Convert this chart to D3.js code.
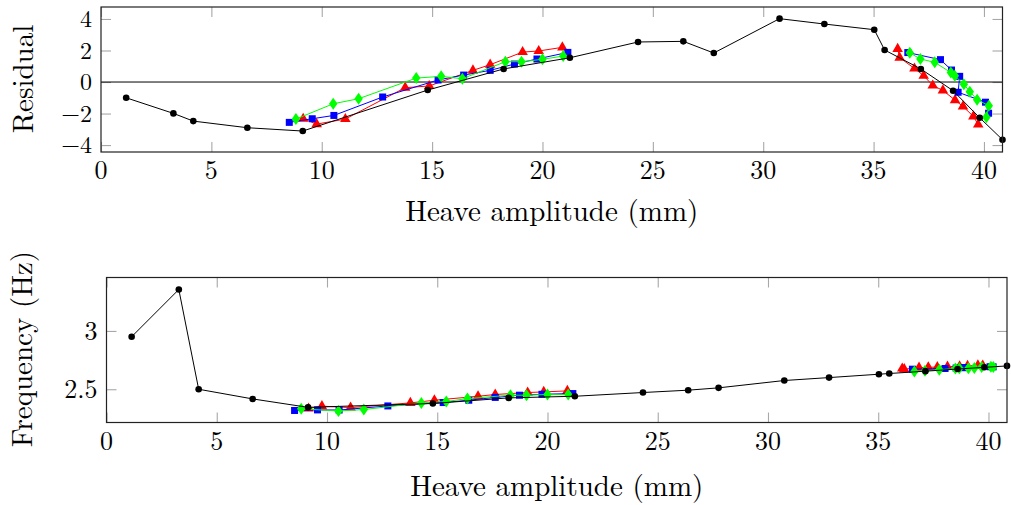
<!DOCTYPE html>
<html>
<head>
<meta charset="utf-8">
<script src="https://cdn.jsdelivr.net/npm/d3@7"></script>
<style>
html,body{margin:0;padding:0;background:#fff;}
svg{display:block;}
text{font-family:"Latin Modern Roman","CMU Serif","Liberation Serif",serif;fill:#000;}
</style>
</head>
<body>
<svg id="chart" width="1011" height="505"></svg>
<script>
// ---------- data ----------
const xTicks = [0, 5, 10, 15, 20, 25, 30, 35, 40];
const resTicks = [-4, -2, 0, 2, 4];
const freqTicks = [2.5, 3];

const blackX = [1.14, 3.28, 4.18, 6.63, 9.14, 14.8, 18.24, 21.24, 24.33, 26.38, 27.76, 30.74, 32.77, 35.03, 35.5, 37.14, 38.6, 39.81, 40.84];
const blackRes = [-1.0, -1.99, -2.48, -2.9, -3.11, -0.51, 0.83, 1.54, 2.54, 2.58, 1.84, 4.02, 3.68, 3.32, 2.03, 0.83, -0.55, -2.27, -3.66];
const blackFreq = [2.95, 3.355, 2.50, 2.417, 2.345, 2.378, 2.426, 2.44, 2.472, 2.492, 2.512, 2.575, 2.60, 2.629, 2.635, 2.655, 2.673, 2.688, 2.70];

const redX1 = [9.16, 9.77, 11.07, 13.78, 14.87, 16.85, 17.63, 19.1, 19.83, 20.9];
const redRes1 = [-2.33, -2.67, -2.35, -0.36, -0.25, 0.74, 1.1, 1.9, 1.97, 2.2];
const redFreq1 = [2.335, 2.355, 2.343, 2.383, 2.406, 2.44, 2.455, 2.472, 2.477, 2.486];
const redX2 = [36.09, 36.18, 36.85, 37.27, 37.68, 38.14, 38.69, 39.05, 39.52, 39.74];
const redRes2 = [2.1, 1.55, 0.86, 0.4, -0.22, -0.53, -1.15, -1.55, -2.18, -2.7];
const redFreq2 = [2.678, 2.672, 2.685, 2.688, 2.69, 2.694, 2.696, 2.70, 2.705, 2.703];

const blueX1 = [8.53, 9.57, 10.55, 12.76, 15.27, 16.43, 17.63, 18.73, 19.75, 21.15];
const blueRes1 = [-2.56, -2.33, -2.12, -0.95, 0.13, 0.44, 0.74, 1.14, 1.46, 1.88];
const blueFreq1 = [2.318, 2.323, 2.322, 2.357, 2.386, 2.406, 2.43, 2.449, 2.457, 2.463];
const blueX2 = [36.55, 38.03, 38.53, 38.9, 38.83, 40.07, 40.21];
const blueRes2 = [1.87, 1.42, 0.76, 0.36, -0.65, -1.28, -1.98];
const blueFreq2 = [2.672, 2.678, 2.682, 2.686, 2.685, 2.693, 2.692];

const greenX1 = [8.83, 10.52, 11.67, 14.28, 15.41, 16.37, 18.32, 19.05, 20.0, 20.94];
const greenRes1 = [-2.35, -1.38, -1.06, 0.25, 0.36, 0.21, 1.29, 1.29, 1.44, 1.65];
const greenFreq1 = [2.332, 2.314, 2.326, 2.383, 2.395, 2.42, 2.449, 2.449, 2.455, 2.455];
const greenX2 = [36.64, 37.12, 37.77, 38.5, 38.68, 39.09, 39.36, 39.69, 40.22, 40.11];
const greenRes2 = [1.85, 1.46, 1.25, 0.6, 0.4, -0.14, -0.61, -1.12, -1.5, -2.24];
const greenFreq2 = [2.652, 2.658, 2.668, 2.678, 2.68, 2.68, 2.683, 2.69, 2.69, 2.692];

const xLabel = "Heave amplitude (mm)";
const resLabel = "Residual";
const freqLabel = "Frequency (Hz)";

// ---------- drawing ----------
const svg = d3.select("#chart");
const zip = (xs, ys) => xs.map((x, i) => [x, ys[i]]);
const xMax = 40.84;
const TICKLEN = 10;
const tickFont = 26, labelFont = 29;
const tickColor = "#a8a8a8";

function styleTicks(s) {
  s.select(".domain").remove();
  s.selectAll("line").attr("stroke", tickColor).attr("stroke-width", 1.1);
}

function panel(cfg) {
  const x = d3.scaleLinear().domain([0, xMax]).range([cfg.left, cfg.right]);
  const y = d3.scaleLinear().domain(cfg.ydom).range([cfg.bottom, cfg.top]);
  const g = svg.append("g");

  // ticks inside on all four sides (grey)
  g.append("g").attr("transform", `translate(0,${cfg.bottom})`)
    .call(d3.axisTop(x).tickValues(xTicks).tickSize(TICKLEN).tickFormat("")).call(styleTicks);
  g.append("g").attr("transform", `translate(0,${cfg.top})`)
    .call(d3.axisBottom(x).tickValues(xTicks).tickSize(TICKLEN).tickFormat("")).call(styleTicks);
  g.append("g").attr("transform", `translate(${cfg.left},0)`)
    .call(d3.axisRight(y).tickValues(cfg.yt).tickSize(TICKLEN).tickFormat("")).call(styleTicks);
  g.append("g").attr("transform", `translate(${cfg.right},0)`)
    .call(d3.axisLeft(y).tickValues(cfg.yt).tickSize(TICKLEN).tickFormat("")).call(styleTicks);

  // tick labels
  g.append("g").selectAll("text").data(xTicks).join("text")
    .attr("x", d => x(d)).attr("y", cfg.bottom + 27)
    .attr("text-anchor", "middle").attr("font-size", tickFont)
    .text(d => d);
  g.append("g").selectAll("text").data(cfg.yt).join("text")
    .attr("x", cfg.left - 9).attr("y", d => y(d)).attr("dy", "0.34em")
    .attr("text-anchor", "end").attr("font-size", cfg.ytFont)
    .text(d => cfg.fmt(d));

  // axis labels
  g.append("text").attr("x", (cfg.left + cfg.right) / 2).attr("y", cfg.xlabY)
    .attr("text-anchor", "middle").attr("font-size", labelFont).text(xLabel);
  g.append("text").attr("transform", `translate(${cfg.ylabX},${cfg.ylabY}) rotate(-90)`)
    .attr("text-anchor", "middle").attr("font-size", labelFont).text(cfg.ylabel);

  // clip
  const cid = "clip" + cfg.id;
  svg.append("defs").append("clipPath").attr("id", cid)
    .append("rect").attr("x", cfg.left - 8).attr("y", cfg.top).attr("width", cfg.right - cfg.left + 16).attr("height", cfg.bottom - cfg.top);
  const pg = g.append("g").attr("clip-path", `url(#${cid})`);

  if (cfg.zero) {
    pg.append("line").attr("x1", cfg.left).attr("x2", cfg.right)
      .attr("y1", y(0)).attr("y2", y(0)).attr("stroke", "#000").attr("stroke-width", 1);
  }

  const line = d3.line().x(d => x(d[0])).y(d => y(d[1]));
  cfg.series.forEach(s => {
    s.parts.forEach(pts => {
      pg.append("path").datum(pts).attr("d", line).attr("fill", "none")
        .attr("stroke", s.color).attr("stroke-width", 1);
    });
    const all = s.parts.flat();
    const mg = pg.append("g").attr("fill", s.color).attr("stroke", "none");
    if (s.mark === "circle") {
      mg.selectAll("circle").data(all).join("circle")
        .attr("cx", d => x(d[0])).attr("cy", d => y(d[1])).attr("r", 3.3);
    } else if (s.mark === "square") {
      mg.selectAll("rect").data(all).join("rect")
        .attr("x", d => x(d[0]) - 3.5).attr("y", d => y(d[1]) - 3.5)
        .attr("width", 7).attr("height", 7);
    } else if (s.mark === "triangle") {
      mg.selectAll("path").data(all).join("path")
        .attr("transform", d => `translate(${x(d[0])},${y(d[1])})`)
        .attr("d", d3.symbol(d3.symbolTriangle, 48));
    } else if (s.mark === "diamond") {
      mg.selectAll("path").data(all).join("path")
        .attr("transform", d => `translate(${x(d[0])},${y(d[1])})`)
        .attr("d", "M0,-6L4.2,0L0,6L-4.2,0Z");
    }
  });

  // frame
  g.append("rect").attr("x", cfg.left).attr("y", cfg.top)
    .attr("width", cfg.right - cfg.left).attr("height", cfg.bottom - cfg.top)
    .attr("fill", "none").attr("stroke", "#222").attr("stroke-width", 1.2);
}

panel({
  id: "top", left: 101, right: 1002.5, top: 7, bottom: 152,
  ydom: [-4.44, 4.76], yt: resTicks, ytFont: 24,
  fmt: d => (d < 0 ? "\u2212" + Math.abs(d) : String(d)),
  zero: true, ylabel: resLabel, ylabX: 33, ylabY: 79, xlabY: 221,
  series: [
    { color: "#ff0000", mark: "triangle", parts: [zip(redX1, redRes1), zip(redX2, redRes2)] },
    { color: "#0000ff", mark: "square", parts: [zip(blueX1, blueRes1), zip(blueX2, blueRes2)] },
    { color: "#00ff00", mark: "diamond", parts: [zip(greenX1, greenRes1), zip(greenX2, greenRes2)] },
    { color: "#000000", mark: "circle", parts: [zip(blackX, blackRes)] }
  ]
});

panel({
  id: "bot", left: 106.5, right: 1007, top: 277.5, bottom: 422.5,
  ydom: [2.215, 3.458], yt: freqTicks, ytFont: 26, fmt: d => String(d),
  zero: false, ylabel: freqLabel, ylabX: 32, ylabY: 349, xlabY: 496,
  series: [
    { color: "#ff0000", mark: "triangle", parts: [zip(redX1, redFreq1), zip(redX2, redFreq2)] },
    { color: "#0000ff", mark: "square", parts: [zip(blueX1, blueFreq1), zip(blueX2, blueFreq2)] },
    { color: "#00ff00", mark: "diamond", parts: [zip(greenX1, greenFreq1), zip(greenX2, greenFreq2)] },
    { color: "#000000", mark: "circle", parts: [zip(blackX, blackFreq)] }
  ]
});
</script>
</body>
</html>
